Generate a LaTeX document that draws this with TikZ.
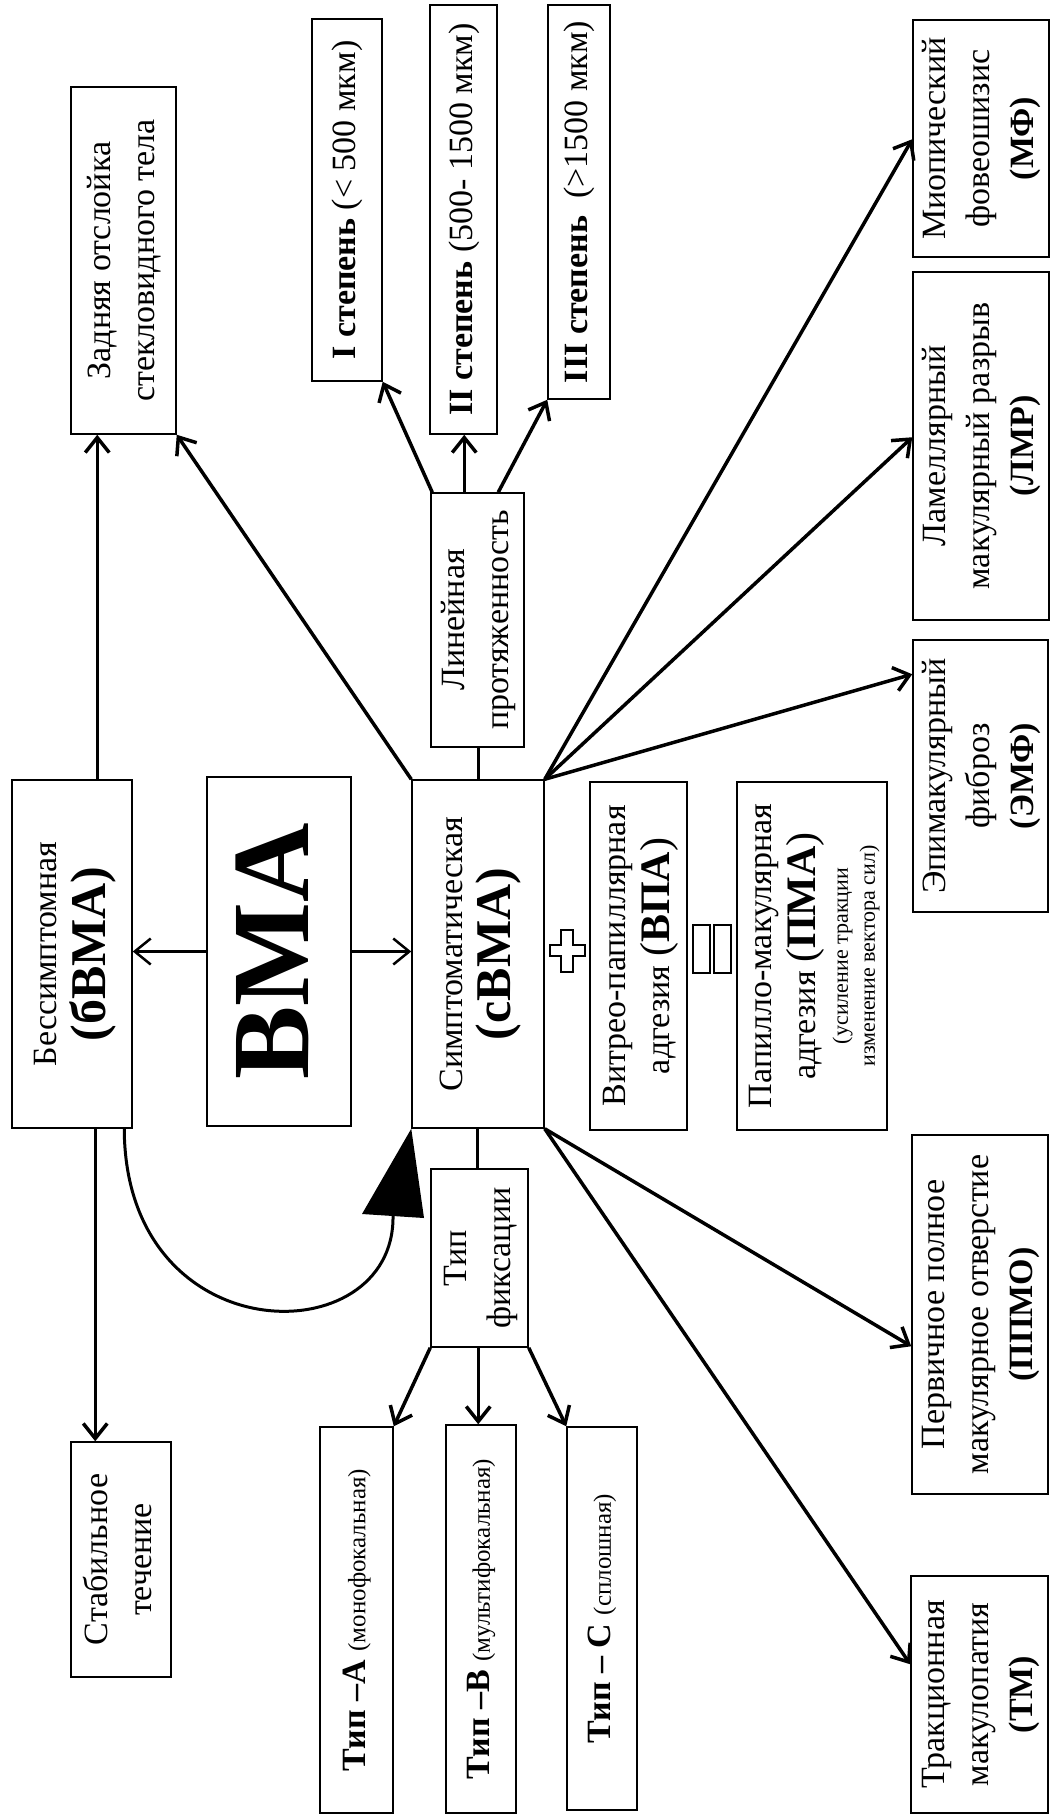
\documentclass[tikz,border=0pt]{standalone}
\usepackage{fontspec}
\setmainfont{Liberation Serif}
\usepackage{graphicx}
\usetikzlibrary{arrows.meta,calc}
\newcommand{\rtx}[1]{\rotatebox{90}{\begin{tabular}{@{}c@{}}#1\end{tabular}}}
\newcommand{\mybox}[6]{\node[box,minimum width={#4-#2},minimum height={#5-#3}] (#1) at ({(#2+#4)/2},{(#3+#5)/2}) {\rtx{#6}};}
\newcommand{\bigf}{\fontsize{50}{56}\selectfont\bfseries}
\newcommand{\midf}{\fontsize{42}{48}\selectfont}
\newcommand{\smf}{\fontsize{25}{29}\selectfont}
\begin{document}
\begin{tikzpicture}[x=1pt,y=-1pt,
  box/.style={draw,line width=1.5pt,inner sep=0pt,font=\fontsize{34}{44}\selectfont},
  conn/.style={line width=3.5pt,-{Straight Barb[length=15pt,width=24pt]}},
  thinarr/.style={line width=2.5pt,-{Straight Barb[length=16pt,width=26pt]}},
  plain/.style={line width=3.5pt},
  sign/.style={draw,line width=1.2pt,fill=white}]
\useasboundingbox (0,0) rectangle (1057,1816);
% top row
\mybox{zad}{71}{87}{176}{434}{Задняя отслойка\\стекловидного тела}
\mybox{st1}{312}{19}{382}{381}{\textbf{I степень} (< 500 мкм)}
\mybox{st2}{430}{5}{497}{434}{\textbf{II степень} (500- 1500 мкм)}
\mybox{st3}{548}{5}{610}{399}{\textbf{III степень}~ (>1500 мкм)}
\mybox{mf}{913}{20}{1049}{257}{Миопический\\фовеошизис\\\textbf{(МФ)}}
\mybox{lmr}{913}{272}{1049}{620}{Ламеллярный\\макулярный разрыв\\\textbf{(ЛМР)}}
\mybox{emf}{913}{640}{1048}{912}{Эпимакулярный\\фиброз\\\textbf{(ЭМФ)}}
\mybox{lin}{431}{493}{524}{747}{Линейная\\протяженность}
% middle row
\mybox{bes}{12}{780}{132}{1128}{Бессимптомная\\{\bigf (бВМА)}}
\mybox{vma}{207}{777}{351}{1126}{{\fontsize{110}{110}\selectfont\bfseries ВМА}}
\mybox{sym}{412}{780}{544}{1128}{Симптоматическая\\{\bigf (сВМА)}}
\mybox{vpa}{590}{782}{687}{1130}{Витрео-папиллярная\\адгезия {\midf(\textbf{ВПА})}}
\mybox{pma}{737}{782}{887}{1130}{Папилло-макулярная\\адгезия {\midf(\textbf{ПМА})}\\{\fontsize{22}{27}\selectfont\begin{tabular}{@{}c@{}}(усиление тракции\\изменение вектора сил)\end{tabular}}}
% lower
\mybox{tip}{431}{1169}{528}{1347}{Тип\\фиксации}
\mybox{stab}{71}{1442}{171}{1677}{Стабильное\\течение}
\mybox{ta}{320}{1427}{393}{1813}{\textbf{Тип –А} {\smf(монофокальная)}}
\mybox{tb}{446}{1425}{516}{1813}{\textbf{Тип –В} {\smf(мультифокальная)}}
\mybox{tc}{567}{1427}{637}{1810}{\textbf{Тип – С} {\smf(сплошная)}}
\mybox{ppmo}{912}{1135}{1048}{1494}{Первичное полное\\макулярное отверстие\\\textbf{(ППМО)}}
\mybox{tm}{911}{1576}{1048}{1813}{Тракционная\\макулопатия\\\textbf{(ТМ)}}
% plus and equals signs
\draw[sign] (561,930) -- (573,930) -- (573,945) -- (585,945) -- (585,956) -- (573,956) -- (573,972) -- (561,972) -- (561,956) -- (550,956) -- (550,945) -- (561,945) -- cycle;
\draw[sign] (693,925) rectangle (710,973);
\draw[sign] (714,925) rectangle (731,973);
% connectors
\draw[thinarr] (vma.west) -- (vma.west -| bes.east);
\draw[thinarr] (vma.east) -- (vma.east -| sym.west);
\draw[conn] ($(bes.north west)+(86,0)$) -- ($(zad.south west)+(27,0)$);
\draw[conn] ($(bes.south west)+(84,0)$) -- ($(stab.north west)+(25,0)$);
\draw[conn] (sym.north west) -- (zad.south east);
\draw[plain] ($(sym.north west)+(67,0)$) -- ($(lin.south west)+(48,0)$);
\draw[conn] ($(lin.north west)+(2,0)$) -- (st1.south east);
\draw[conn] ($(lin.north west)+(34,0)$) -- ($(st2.south west)+(35,0)$);
\draw[conn] ($(lin.north west)+(68,0)$) -- (st3.south west);
\draw[conn] (sym.north east) -- ($(mf.north west)+(0,120)$);
\draw[conn] (sym.north east) -- ($(lmr.north west)+(0,166)$);
\draw[conn] (sym.north east) -- ($(emf.north west)+(0,35)$);
\draw[conn] (sym.south east) -- ($(ppmo.north west)+(0,212)$);
\draw[conn] (sym.south east) -- ($(tm.north west)+(0,89)$);
\draw[plain] ($(sym.south west)+(66,0)$) -- ($(tip.north west)+(47,0)$);
\draw[conn] (tip.south west) -- (ta.north east);
\draw[conn] ($(tip.south west)+(48,0)$) -- ($(tb.north west)+(33,0)$);
\draw[conn] (tip.south east) -- (tc.north west);
% curved arrow with big triangular head
\coordinate (tribase) at (393,1216);
\draw[line width=3pt] ($(bes.south west)+(113,0)$) .. controls (125,1355) and (395,1355) .. (tribase);
\fill (sym.south west) -- (362,1214) -- (424,1218) -- cycle;
\end{tikzpicture}
\end{document}
